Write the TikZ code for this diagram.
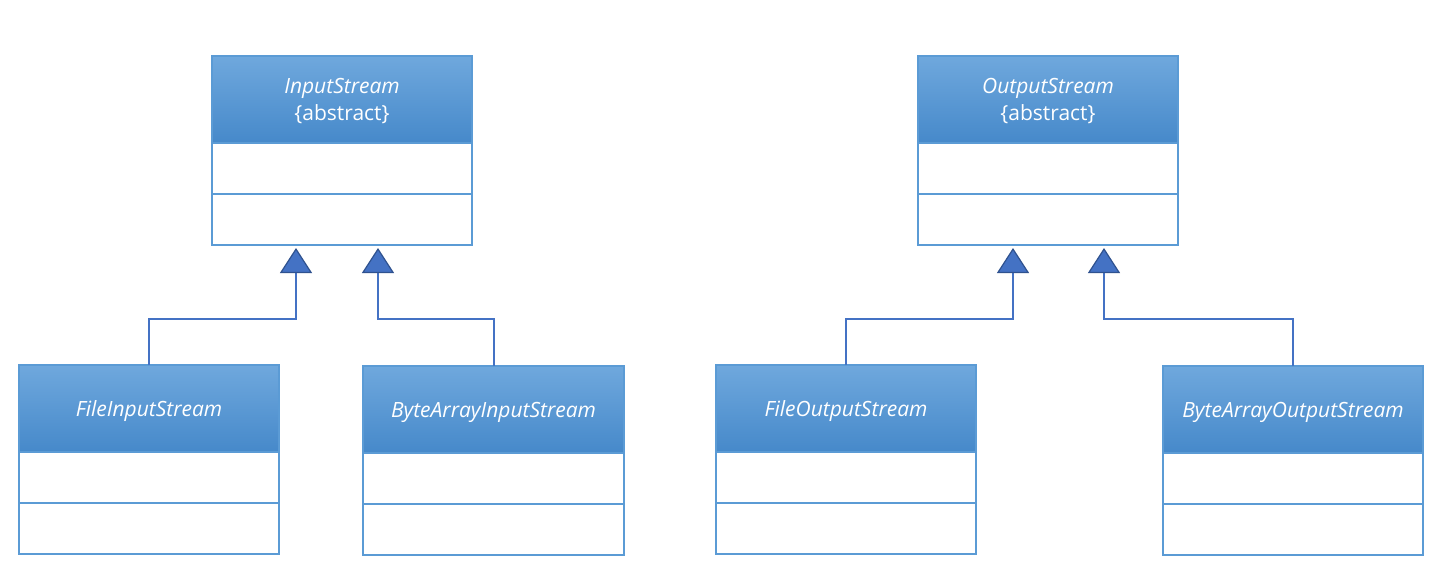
\documentclass[tikz,border=0pt]{standalone}
\usepackage{fontspec}
\setmainfont{Open Sans}
\usetikzlibrary{arrows.meta}
\definecolor{hdtop}{RGB}{111,168,221}
\definecolor{hdbot}{RGB}{70,137,202}
\definecolor{bord}{RGB}{91,155,213}
\definecolor{linec}{RGB}{68,114,196}
\definecolor{tribord}{RGB}{47,82,143}
\begin{document}
\begin{tikzpicture}[x=1pt,y=-1pt,
  header/.style={draw=bord, line width=1.5pt, top color=hdtop, bottom color=hdbot,
    minimum width=260pt, minimum height=87pt, inner sep=0pt, outer sep=0pt, anchor=north west,
    text=white, font=\fontsize{21}{26.5}\selectfont, align=center, text depth=0pt},
  compart/.style={draw=bord, line width=2pt, fill=white, minimum width=260pt,
    minimum height=51pt, inner sep=0pt, outer sep=0pt, anchor=north},
  gen/.style={draw=linec, line width=2pt,
    -{Triangle[length=25pt,width=32pt,fill=linec,color=tribord,line width=1.2pt]}}]
\useasboundingbox (0,0) rectangle (1432,587);
% InputStream
\node[header] (is) at (212,56) {\textit{InputStream}\\\{abstract\}};
\node[compart] (is1) at (is.south) {};
\node[compart] (is2) at (is1.south) {};
% OutputStream
\node[header] (os) at (918,56) {\textit{OutputStream}\\\{abstract\}};
\node[compart] (os1) at (os.south) {};
\node[compart] (os2) at (os1.south) {};
% FileInputStream
\node[header] (fis) at (19,365) {\textit{FileInputStream}};
\node[compart] (fis1) at (fis.south) {};
\node[compart] (fis2) at (fis1.south) {};
% ByteArrayInputStream
\node[header, minimum width=261pt] (bis) at (363,366) {\textit{ByteArrayInputStream}};
\node[compart, minimum width=261pt] (bis1) at (bis.south) {};
\node[compart, minimum width=261pt] (bis2) at (bis1.south) {};
% FileOutputStream
\node[header] (fos) at (716,365) {\textit{FileOutputStream}};
\node[compart] (fos1) at (fos.south) {};
\node[compart] (fos2) at (fos1.south) {};
% ByteArrayOutputStream
\node[header] (bos) at (1163,366) {\textit{ByteArrayOutputStream}};
\node[compart] (bos1) at (bos.south) {};
\node[compart] (bos2) at (bos1.south) {};
% arrow tips
\coordinate (t1) at (296,248);
\coordinate (t2) at (378,248);
\coordinate (t3) at (1013,248);
\coordinate (t4) at (1104,248);
\draw[gen] (fis.north) -- (fis.north |- 0,319) -| (t1);
\draw[gen] (bis.north) -- (bis.north |- 0,319) -| (t2);
\draw[gen] (fos.north) -- (fos.north |- 0,319) -| (t3);
\draw[gen] (bos.north) -- (bos.north |- 0,319) -| (t4);
\end{tikzpicture}
\end{document}
